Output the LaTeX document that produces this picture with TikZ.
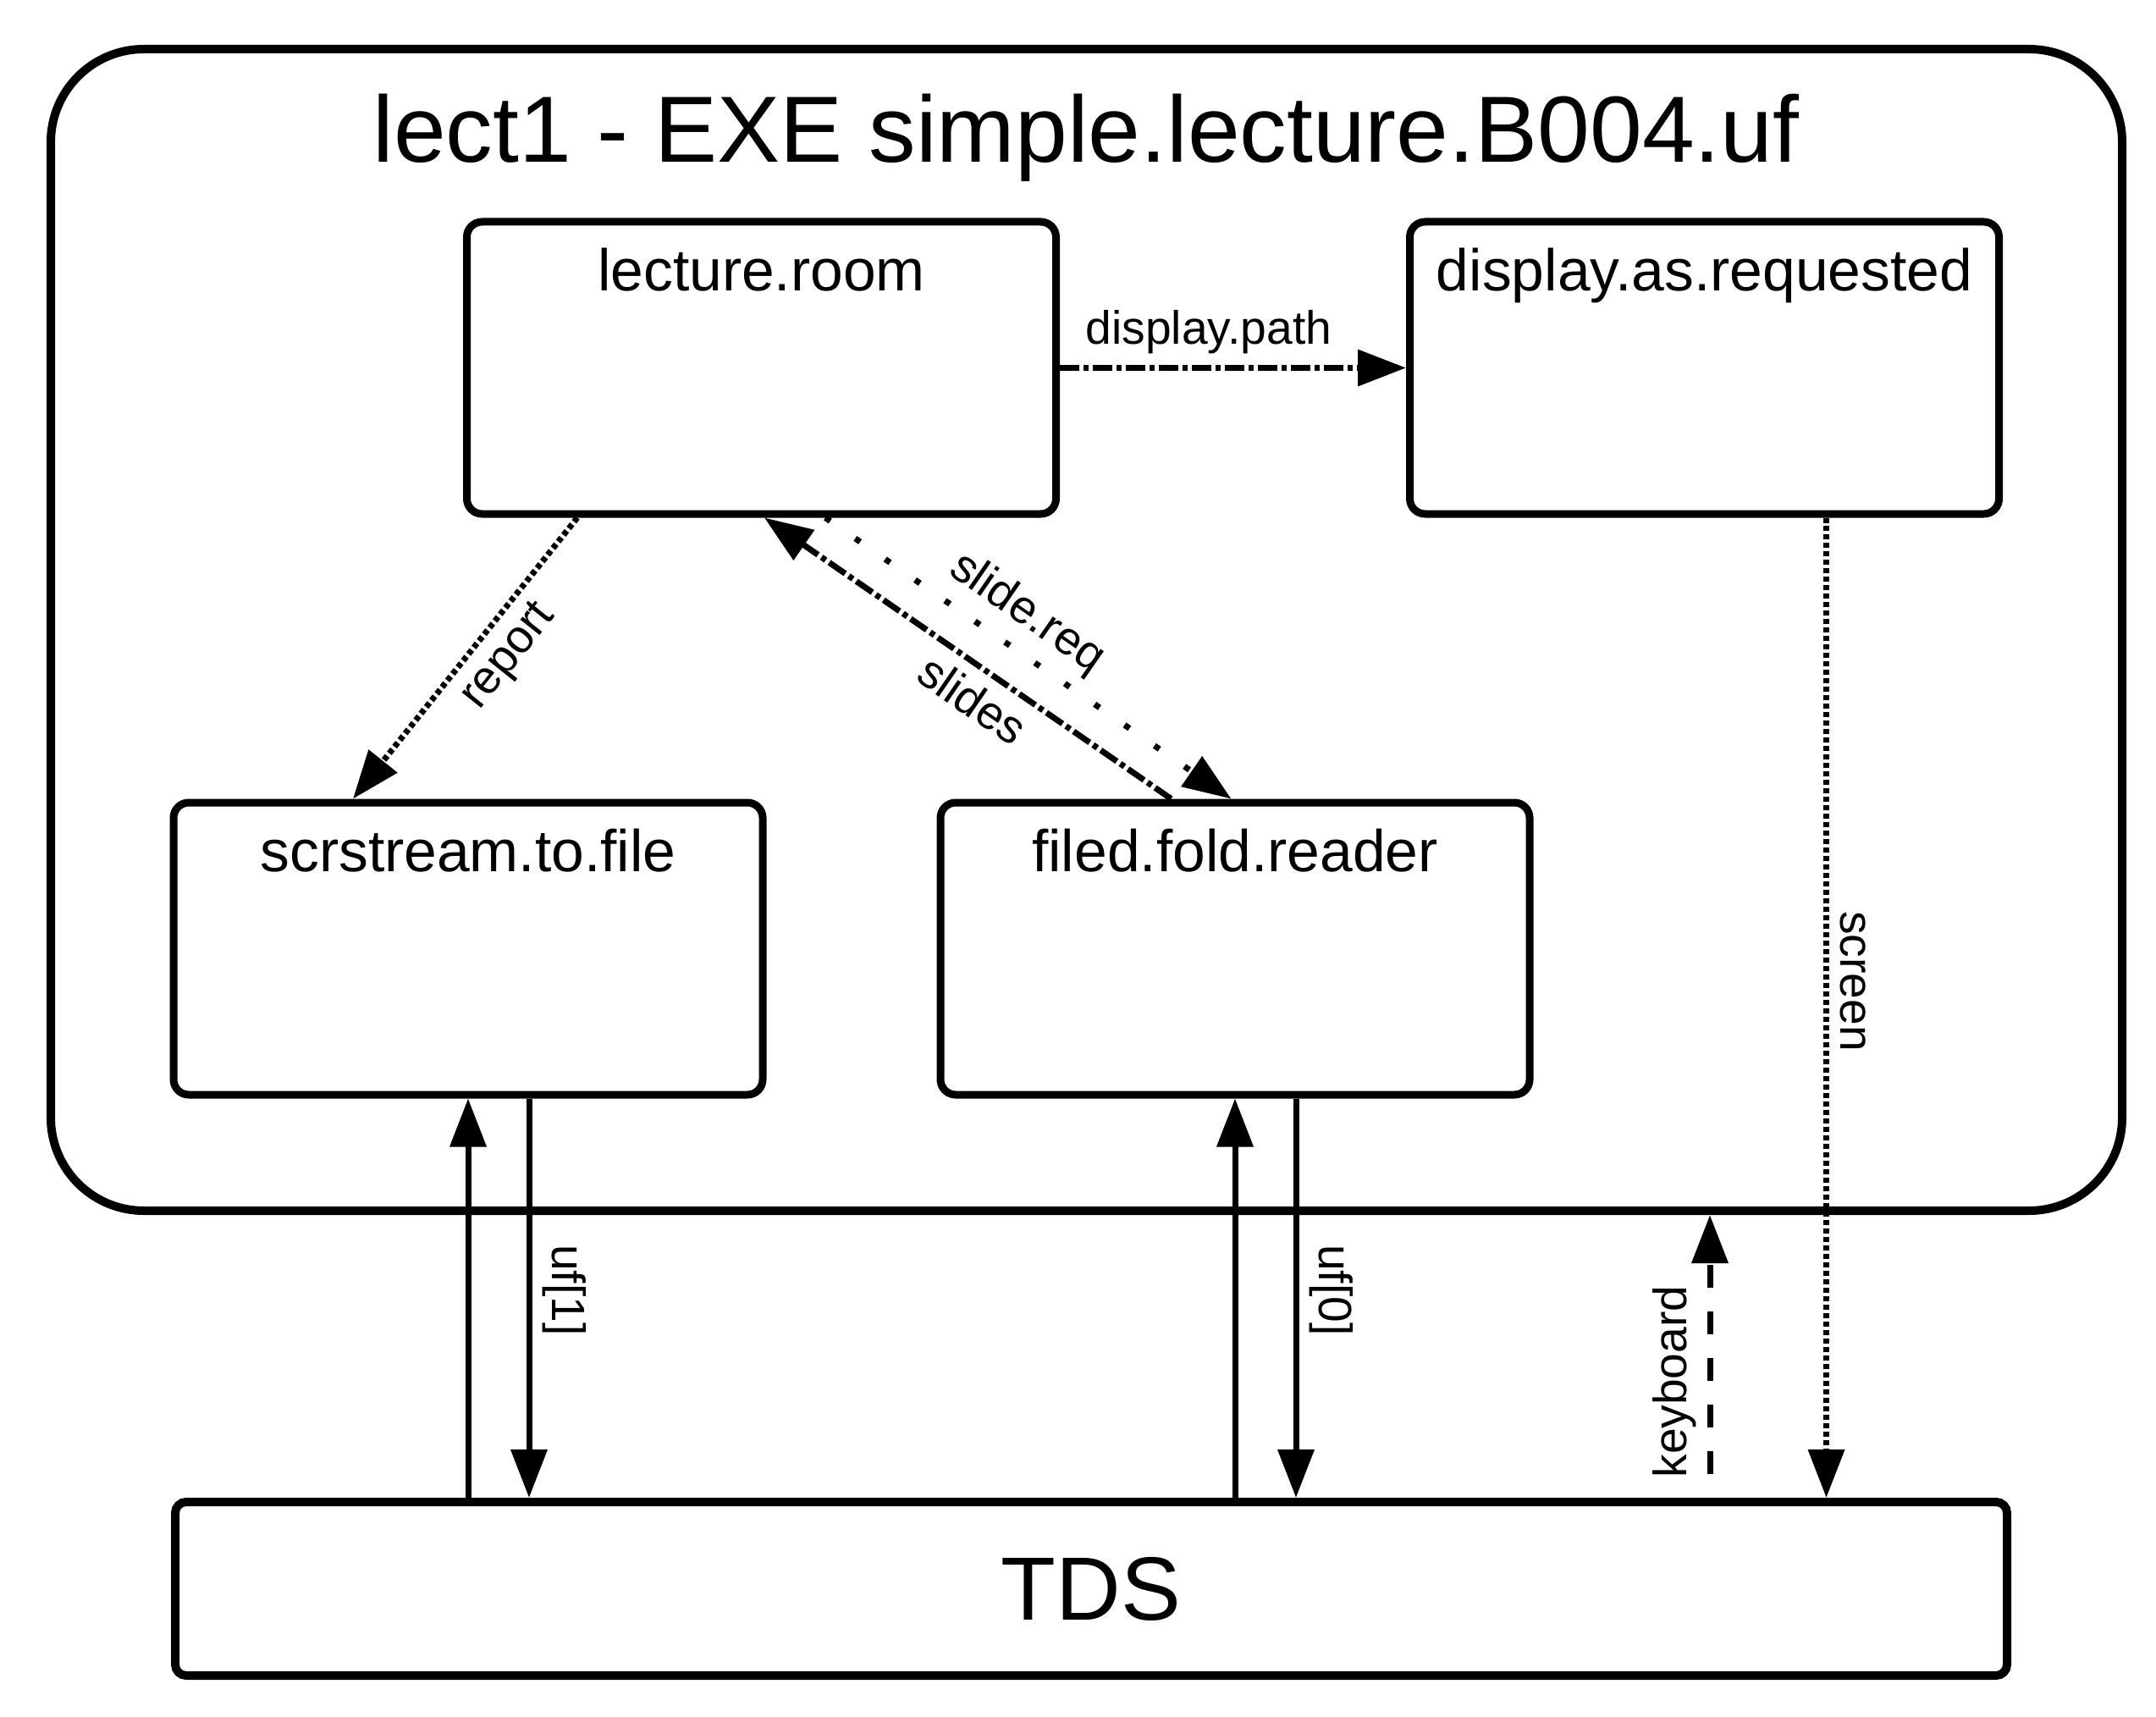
\documentclass[tikz,border=0pt]{standalone}
\usepackage{fontspec}
\setmainfont{Liberation Sans}
\usepackage{tikz}
\usetikzlibrary{arrows.meta, positioning, calc}

\begin{document}
\begin{tikzpicture}[
    proc/.style={draw, line width=0.09cm, rounded corners=0.18cm,
                 minimum width=6.96cm, minimum height=3.45cm, inner sep=0pt},
    proclbl/.style={anchor=base, yshift=-0.86cm, inner sep=0pt,
                    font=\fontsize{19.8}{24}\selectfont},
    flow/.style={line width=0.07cm, -{Triangle[length=0.57cm, width=0.42cm]}},
    lbl/.style={font=\fontsize{15.7}{19}\selectfont, inner sep=0.13cm},
    dashdot/.style={dash pattern=on 0.23cm off 0.05cm on 0.06cm off 0.05cm},
    densedots/.style={dash pattern=on 0.06cm off 0.04cm},
    sparsedots/.style={dash pattern=on 0.07cm off 0.36cm},
    longdash/.style={dash pattern=on 0.27cm off 0.28cm, dash phase=0.27cm}
  ]
  \useasboundingbox (0,0) rectangle (25.47,-20.27);

  % the executable
  \node[draw, line width=0.1cm, rounded corners=1.1cm,
        minimum width=24.47cm, minimum height=13.72cm] (exe) at (12.835,-7.44) {};
  \node[anchor=base, font=\fontsize{31.6}{38}\selectfont] (title) at (12.83,-1.92)
    {lect1 - EXE simple.lecture.B004.uf};

  % processes
  \node[proc, label={[proclbl, name=roomlbl]north:lecture.room}] (room) at (8.995,-4.345) {};
  \node[proc, right=4.09cm of room,
        label={[proclbl, name=displbl]north:display.as.requested}] (display) {};
  \node[proc, label={[proclbl, name=scrlbl]north:scrstream.to.file}] (scr) at (5.53,-11.205) {};
  \node[proc, right=2.01cm of scr,
        label={[proclbl, name=filedlbl]north:filed.fold.reader}] (filed) {};

  \node[draw, line width=0.1cm, rounded corners=0.13cm,
        minimum width=21.64cm, minimum height=2.05cm,
        font=\fontsize{30.2}{36}\selectfont] (tds) at (12.89,-18.765) {TDS};

  % channels inside
  \draw[flow, dashdot] (room.east) -- node[lbl, above, pos=0.43] (pathlbl) {display.path} (display.west);
  \draw[flow, densedots] ([xshift=-2.175cm]room.south)
    -- node[lbl, sloped, below, pos=0.42] (reportlbl) {report} ([xshift=-1.36cm]scr.north);
  \draw[flow, dashdot] ([xshift=-0.755cm]filed.north)
    -- node[lbl, sloped, below, pos=0.444] (slideslbl) {slides} ([xshift=0.035cm]room.south);
  \draw[flow, sparsedots] ([xshift=0.755cm]room.south)
    -- node[lbl, sloped, above, pos=0.446] (reqlbl) {slide.req} ([xshift=-0.045cm]filed.north);

  % channels to TDS
  \draw[flow] (tds.north -| scr.south) -- (scr.south);
  \draw[flow] ([xshift=0.72cm]scr.south)
    -- node[lbl, rotate=-90, anchor=south, pos=0.48] (uf1lbl) {uf[1]} ([xshift=0.72cm]scr.south |- tds.north);
  \draw[flow] (tds.north -| filed.south) -- (filed.south);
  \draw[flow] ([xshift=0.72cm]filed.south)
    -- node[lbl, rotate=-90, anchor=south, pos=0.48] (uf0lbl) {uf[0]} ([xshift=0.72cm]filed.south |- tds.north);

  \coordinate (kb) at ([xshift=7.31cm]tds.north);
  \draw[flow, longdash] (kb) -- node[lbl, rotate=90, anchor=south, pos=0.41] (kblbl) {keyboard} (kb |- exe.south);
  \draw[flow, densedots] ([xshift=1.44cm]display.south)
    -- node[lbl, rotate=-90, anchor=south, pos=0.473] (screenlbl) {screen} ([xshift=1.44cm]display.south |- tds.north);
\end{tikzpicture}
\end{document}
